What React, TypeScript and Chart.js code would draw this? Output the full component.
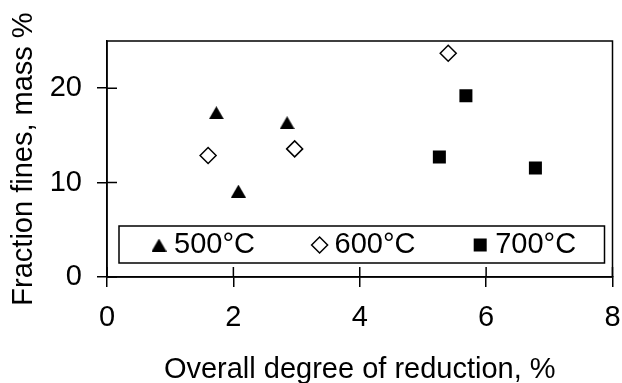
import React, { useEffect, useRef } from 'react';
import { Chart, registerables } from 'chart.js';
import { drawPoint } from 'chart.js/helpers';

Chart.register(...registerables);

// ---- data ----
const seriesLabels = ['500°C', '600°C', '700°C'];
const x500 = [1.73, 2.08, 2.85];
const y500 = [17.4, 9.1, 16.35];
const x600 = [1.6, 2.97, 5.4];
const y600 = [12.87, 13.57, 23.7];
const x700 = [5.26, 5.68, 6.78];
const y700 = [12.7, 19.2, 11.55];
const xTicks = [0, 2, 4, 6, 8];
const yTicks = [0, 10, 20];
const xTitle = 'Overall degree of reduction, %';
const yTitle = 'Fraction fines, mass %';

const FONT = "'Liberation Sans', Arial, Helvetica, sans-serif";

function makeTriangle(): HTMLCanvasElement {
  const c = document.createElement('canvas');
  c.width = 15;
  c.height = 13;
  const g = c.getContext('2d')!;
  g.fillStyle = '#000';
  g.beginPath();
  g.moveTo(7.5, 0);
  g.lineTo(15, 13);
  g.lineTo(0, 13);
  g.closePath();
  g.fill();
  return c;
}

const frameAndLegend = {
  id: 'frameAndLegend',
  afterDatasetsDraw(chart: any) {
    const { ctx, chartArea: a, scales } = chart;
    ctx.save();
    ctx.strokeStyle = '#000';
    ctx.lineWidth = 1.5;
    ctx.strokeRect(a.left, a.top, a.right - a.left, a.bottom - a.top);
    // inner halves of crossing tick marks
    ctx.beginPath();
    scales.x.ticks.forEach((t: any) => {
      const px = scales.x.getPixelForValue(t.value);
      ctx.moveTo(px, a.bottom);
      ctx.lineTo(px, a.bottom - 10);
    });
    scales.y.ticks.forEach((t: any) => {
      const py = scales.y.getPixelForValue(t.value);
      ctx.moveTo(a.left, py);
      ctx.lineTo(a.left + 10, py);
    });
    ctx.stroke();

    // legend box
    const bl = a.left + 12;
    const br = a.right - 8;
    const bt = a.bottom - 51;
    const bb = a.bottom - 14;
    ctx.fillStyle = '#fff';
    ctx.fillRect(bl, bt, br - bl, bb - bt);
    ctx.strokeRect(bl, bt, br - bl, bb - bt);
    const cy = (bt + bb) / 2 + 0.5;
    ctx.font = `29px ${FONT}`;
    ctx.textBaseline = 'middle';
    ctx.textAlign = 'left';
    chart.data.datasets.forEach((ds: any, i: number) => {
      const mx = bl + 40 + i * 160.6;
      ctx.fillStyle = ds.backgroundColor;
      ctx.strokeStyle = ds.borderColor;
      ctx.lineWidth = ds.borderWidth;
      drawPoint(ctx, { pointStyle: ds.pointStyle, radius: ds.pointRadius, borderWidth: ds.borderWidth, rotation: 0 } as any, mx, cy);
      ctx.fillStyle = '#000';
      ctx.fillText(ds.label, mx + 15, cy);
    });
    ctx.restore();
  },
};

export default function App() {
  const ref = useRef<HTMLCanvasElement | null>(null);

  useEffect(() => {
    document.body.style.margin = '0';
    const tri = makeTriangle();
    const toPts = (xs: number[], ys: number[]) => xs.map((x, i) => ({ x, y: ys[i] }));
    const chart = new Chart(ref.current!, {
      type: 'scatter',
      data: {
        datasets: [
          {
            label: seriesLabels[0],
            data: toPts(x500, y500),
            pointStyle: tri as any,
            pointRadius: 8,
            backgroundColor: '#000',
            borderColor: '#000',
            borderWidth: 0,
          },
          {
            label: seriesLabels[1],
            data: toPts(x600, y600),
            pointStyle: 'rectRot',
            pointRadius: 8,
            backgroundColor: '#fff',
            borderColor: '#000',
            borderWidth: 1.5,
          },
          {
            label: seriesLabels[2],
            data: toPts(x700, y700),
            pointStyle: 'rect',
            pointRadius: 9.2,
            backgroundColor: '#000',
            borderColor: '#000',
            borderWidth: 0,
          },
        ],
      },
      options: {
        animation: false,
        responsive: true,
        maintainAspectRatio: false,
        layout: { padding: { top: 41, right: 9, left: 0, bottom: 0 } },
        plugins: { legend: { display: false }, tooltip: { enabled: false } },
        scales: {
          x: {
            type: 'linear',
            min: 0,
            max: 8,
            afterBuildTicks: (s: any) => {
              s.ticks = xTicks.map((v) => ({ value: v }));
            },
            afterFit: (s: any) => {
              s.height = 106;
              s.paddingLeft = 0;
              s.paddingRight = 0;
            },
            ticks: {
              color: '#000',
              font: { family: FONT, size: 29 },
              padding: 14,
              maxRotation: 0,
              autoSkip: false,
            },
            grid: { drawOnChartArea: false, drawTicks: true, tickLength: 10, color: '#000', lineWidth: 1.5 },
            border: { display: true, color: '#000', width: 1.5 },
            title: {
              display: true,
              text: xTitle,
              color: '#000',
              font: { family: FONT, size: 29, lineHeight: 1.2 },
              padding: { top: 0, bottom: -4 },
            },
          },
          y: {
            type: 'linear',
            min: 0,
            max: 25,
            afterBuildTicks: (s: any) => {
              s.ticks = yTicks.map((v) => ({ value: v }));
            },
            afterFit: (s: any) => {
              s.width = 107;
              s.paddingTop = 0;
              s.paddingBottom = 0;
            },
            ticks: {
              color: '#000',
              font: { family: FONT, size: 29 },
              padding: 15,
              autoSkip: false,
            },
            grid: { drawOnChartArea: false, drawTicks: true, tickLength: 10, color: '#000', lineWidth: 1.5 },
            border: { display: true, color: '#000', width: 1.5 },
            title: {
              display: true,
              text: yTitle,
              color: '#000',
              font: { family: FONT, size: 29, lineHeight: 1.2 },
              padding: { top: 6.5, bottom: 0 },
            },
          },
        },
      },
      plugins: [frameAndLegend],
    });
    return () => chart.destroy();
  }, []);

  return (
    <div style={{ width: 622, height: 383, position: 'relative' }}>
      <canvas ref={ref} />
    </div>
  );
}
